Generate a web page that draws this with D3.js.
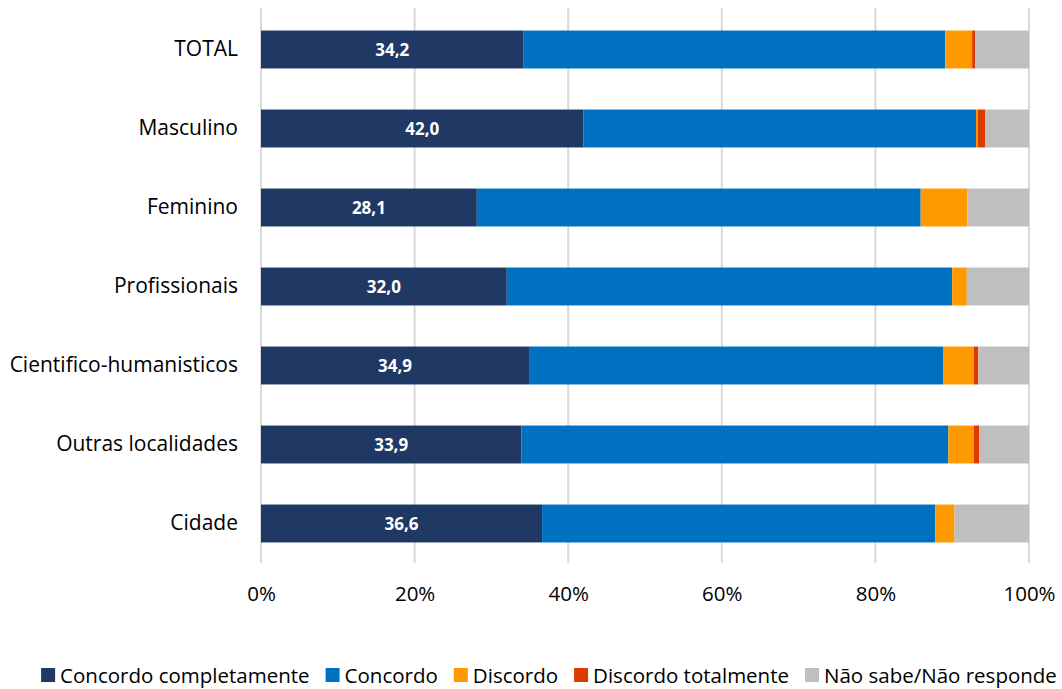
<!DOCTYPE html>
<html>
<head>
<meta charset="utf-8">
<script src="https://cdn.jsdelivr.net/npm/d3@7"></script>
<style>
  body { margin: 0; background: #fff; }
  text { font-family: "Open Sans", sans-serif; }
</style>
</head>
<body>
<div id="chart"></div>
<script>
// Categories, top to bottom
const categories = ["TOTAL", "Masculino", "Feminino", "Profissionais", "Cientifico-humanisticos", "Outras localidades", "Cidade"]

// Series (percent)
const seriesNames = ["Concordo completamente", "Concordo", "Discordo", "Discordo totalmente", "Não sabe/Não responde"]
const concordoCompletamente = [34.2, 42.0, 28.1, 32.0, 34.9, 33.9, 36.6]
const concordo = [54.9, 51.1, 57.8, 58.0, 53.9, 55.6, 51.2]
const discordo = [3.5, 0.2, 6.1, 1.9, 4.0, 3.3, 2.5]
const discordoTotalmente = [0.4, 1.0, 0.0, 0.0, 0.6, 0.7, 0.0]
const naoSabe = [7.0, 5.7, 8.0, 8.1, 6.6, 6.5, 9.7]

const tickValues = [0, 20, 40, 60, 80, 100]
const colors = ["#203864", "#0070C0", "#FF9900", "#DD3A00", "#BFBFBF"]

function drawChart() {
    const dimensions = {
        width: 1062,
        height: 689,
        margins: { top: 10, right: 33, bottom: 126, left: 261 }
    }
    dimensions.boundedWidth = dimensions.width - dimensions.margins.left - dimensions.margins.right
    dimensions.boundedHeight = dimensions.height - dimensions.margins.top - dimensions.margins.bottom

    // Build table for stack
    const seriesValues = [concordoCompletamente, concordo, discordo, discordoTotalmente, naoSabe]
    const table = categories.map((c, i) => {
        const row = { category: c }
        seriesNames.forEach((s, j) => row[s] = seriesValues[j][i])
        return row
    })
    const stacked = d3.stack().keys(seriesNames)(table)

    const wrapper = d3.select("#chart").append("svg")
        .attr("width", dimensions.width)
        .attr("height", dimensions.height)

    const bounds = wrapper.append("g")
        .attr("transform", `translate(${dimensions.margins.left},${dimensions.margins.top})`)

    const xScale = d3.scaleLinear()
        .domain([0, 100])
        .range([0, dimensions.boundedWidth])

    const yScale = d3.scaleBand()
        .domain(categories)
        .range([0, dimensions.boundedHeight])
        .paddingInner(0.52)
        .paddingOuter(0.26)

    // Gridlines
    bounds.append("g")
        .selectAll("line")
        .data(tickValues)
        .join("line")
        .attr("x1", d => xScale(d))
        .attr("x2", d => xScale(d))
        .attr("y1", -2)
        .attr("y2", dimensions.boundedHeight)
        .attr("stroke", "#D9D9D9")
        .attr("stroke-width", 2)

    // Bars
    bounds.append("g")
        .selectAll("g")
        .data(stacked)
        .join("g")
        .attr("fill", (d, i) => colors[i])
        .selectAll("rect")
        .data(d => d)
        .join("rect")
        .attr("x", d => xScale(d[0]))
        .attr("width", d => Math.max(0, xScale(d[1]) - xScale(d[0])))
        .attr("y", d => yScale(d.data.category))
        .attr("height", yScale.bandwidth())

    // Value labels for first series
    bounds.append("g")
        .selectAll("text")
        .data(stacked[0])
        .join("text")
        .attr("x", d => xScale((d[0] + d[1]) / 2))
        .attr("y", d => yScale(d.data.category) + yScale.bandwidth() / 2)
        .attr("dy", "0.36em")
        .attr("text-anchor", "middle")
        .attr("fill", "#fff")
        .attr("font-weight", "bold")
        .attr("font-size", 17)
        .text(d => d3.format(".1f")(d[1] - d[0]).replace(".", ","))

    // Category labels
    const yAxis = bounds.append("g")
        .call(d3.axisLeft(yScale).tickSize(0).tickPadding(23))
    yAxis.select(".domain").remove()
    yAxis.selectAll("text")
        .attr("font-size", 21)
        .attr("fill", "#000")
        .style("font-family", "'Open Sans', sans-serif")

    // X axis labels
    const xAxis = bounds.append("g")
        .attr("transform", `translate(0,${dimensions.boundedHeight})`)
        .call(d3.axisBottom(xScale).tickValues(tickValues).tickSize(0).tickPadding(23).tickFormat(d => d + "%"))
    xAxis.select(".domain").remove()
    xAxis.selectAll("text")
        .attr("font-size", 20.5)
        .attr("fill", "#000")
        .style("font-family", "'Open Sans', sans-serif")

    // Legend
    const legend = wrapper.append("g")
        .attr("transform", `translate(0,${dimensions.height - 6})`)
    const items = legend.selectAll("g")
        .data(seriesNames)
        .join("g")
    items.append("rect")
        .attr("y", -15)
        .attr("width", 14)
        .attr("height", 14)
        .attr("fill", (d, i) => colors[i])
    items.append("text")
        .attr("x", 19)
        .attr("y", 0)
        .attr("font-size", 20.5)
        .attr("fill", "#000")
        .text(d => d)

    let widths = []
    items.each(function () {
        widths.push(d3.select(this).select("text").node().getComputedTextLength() + 19)
    })
    const gap = 16
    const total = d3.sum(widths) + gap * (widths.length - 1)
    let x = (dimensions.width - total) / 2 + 18
    items.attr("transform", (d, i) => {
        const t = `translate(${x},0)`
        x += widths[i] + gap
        return t
    })
}

drawChart()
</script>
</body>
</html>
